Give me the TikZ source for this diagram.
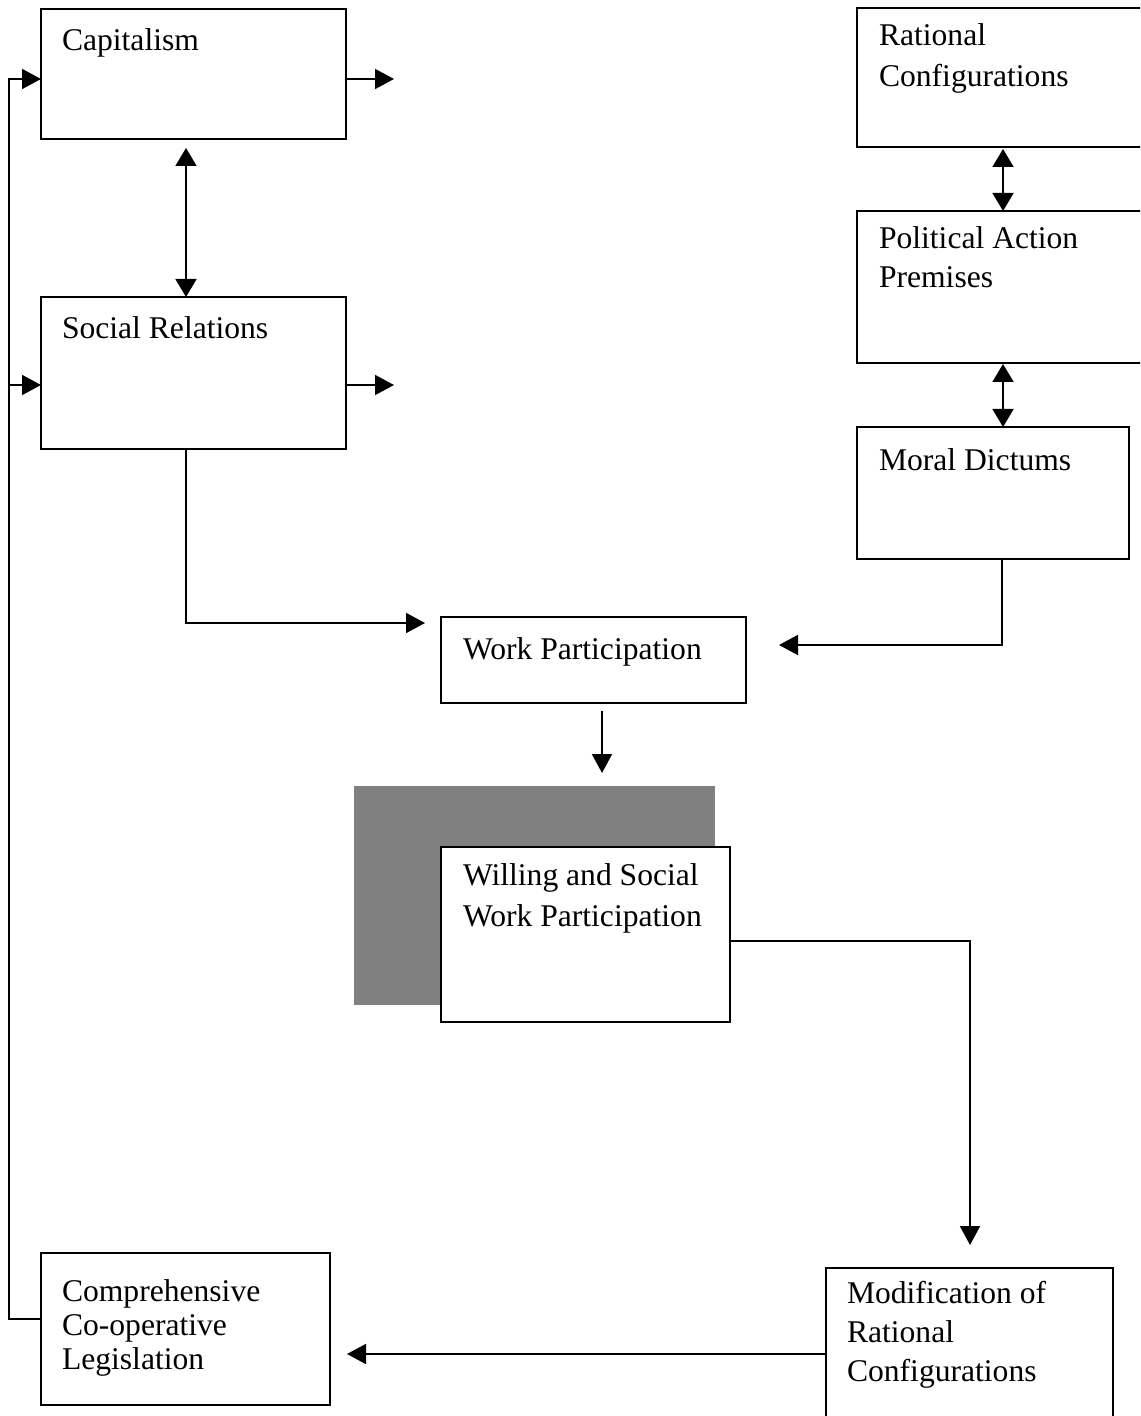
\documentclass[tikz,border=0pt]{standalone}
\usepackage{fontspec}
\setmainfont{Liberation Serif}
\usetikzlibrary{arrows.meta,calc}
\definecolor{shade}{HTML}{808080}
\begin{document}
\begin{tikzpicture}[x=0.5pt,y=-0.5pt,
  box/.style={draw=black,line width=0.9pt,fill=white,rectangle,inner sep=0pt,outer sep=0pt,anchor=north west},
  txt/.style={anchor=base west,inner sep=0pt,outer sep=0pt,align=left,font=\fontsize{15.8pt}{20.5pt}\selectfont},
  arr/.style={line width=0.9pt,-{Triangle[length=9.5pt,width=10pt]}},
  dbl/.style={line width=0.9pt,{Triangle[length=9pt,width=10.5pt]}-{Triangle[length=9pt,width=10.5pt]}}]
\useasboundingbox (0,0) rectangle (1140,1416);
\clip (0,0) rectangle (1140,1416);
% boxes
\node[box,minimum width=152.5pt,minimum height=65pt] (cap) at (41,9) {};
\node[box,minimum width=152.5pt,minimum height=76pt] (sr) at (41,297) {};
\node[box,minimum width=150pt,minimum height=69.5pt] (rc) at (857,8) {};
\node[box,minimum width=150pt,minimum height=76pt] (pa) at (857,211) {};
\node[box,minimum width=136pt,minimum height=66pt] (md) at (857,427) {};
\node[box,minimum width=152.5pt,minimum height=43pt] (wp) at (441,617) {};
\node[fill=shade,draw=none,inner sep=0pt,outer sep=0pt,anchor=north west,minimum width=180.5pt,minimum height=109.5pt] (gray) at (354,786) {};
\node[box,minimum width=144.5pt,minimum height=87.5pt] (ws) at (441,847) {};
\node[box,minimum width=144.5pt,minimum height=76pt] (cl) at (41,1253) {};
\node[box,minimum width=143.5pt,minimum height=85pt] (mr) at (826,1268) {};
% texts (multi-line texts are placed by the baseline of their last line)
\node[txt] (capt) at (62,51) {Capitalism};
\node[txt] (srt) at (62,339) {Social Relations};
\node[txt] (rct) at (879,87) {Rational\\Configurations};
\node[txt,font=\fontsize{15.8pt}{19.5pt}\selectfont] (pat) at (879,288) {Political Action\\Premises};
\node[txt] (mdt) at (879,471) {Moral Dictums};
\node[txt] (wpt) at (463,659) {Work Participation};
\node[txt] (wst) at (463,926) {Willing and Social\\Work Participation};
\node[txt,font=\fontsize{15.8pt}{17pt}\selectfont] (clt) at (62,1369) {Comprehensive\\Co-operative\\Legislation};
\node[txt,font=\fontsize{15.8pt}{19.5pt}\selectfont] (mrt) at (847,1381) {Modification of\\Rational\\Configurations};
% coordinates
\coordinate (fb1) at (9,1319);
\coordinate (fb2) at (9,79);
\coordinate (fb3) at (9,385);
\coordinate (capout) at (394,79);
\coordinate (srout) at (394,385);
\coordinate (d1) at (186,148);
\coordinate (d2) at (1003,149);
\coordinate (d3) at (1003,364);
\coordinate (sw) at (186,623);
\coordinate (wpin) at (425,623);
\coordinate (mw) at (1002,645);
\coordinate (wpin2) at (779,645);
\coordinate (wd1) at (602,711);
\coordinate (wd2) at (602,773);
\coordinate (wsm) at (970,941);
\coordinate (mrin) at (970,1245);
\coordinate (mc) at (347,1354);
% connectors
\draw[arr] (cl.west |- fb1) -- (fb1) -- (fb2) -- (cap.west |- fb2);
\draw[arr] (fb3) -- (sr.west |- fb3);
\draw[arr] (cap.east |- capout) -- (capout);
\draw[arr] (sr.east |- srout) -- (srout);
\draw[dbl] (d1) -- (d1 |- sr.north);
\draw[dbl] (d2) -- (d2 |- pa.north);
\draw[dbl] (d3) -- (d3 |- md.north);
\draw[arr] (sw |- sr.south) -- (sw) -- (wpin);
\draw[arr] (mw |- md.south) -- (mw) -- (wpin2);
\draw[arr] (wd1) -- (wd2);
\draw[arr] (ws.east |- wsm) -- (wsm) -- (mrin);
\draw[arr] (mr.west |- mc) -- (mc);
\end{tikzpicture}
\end{document}
